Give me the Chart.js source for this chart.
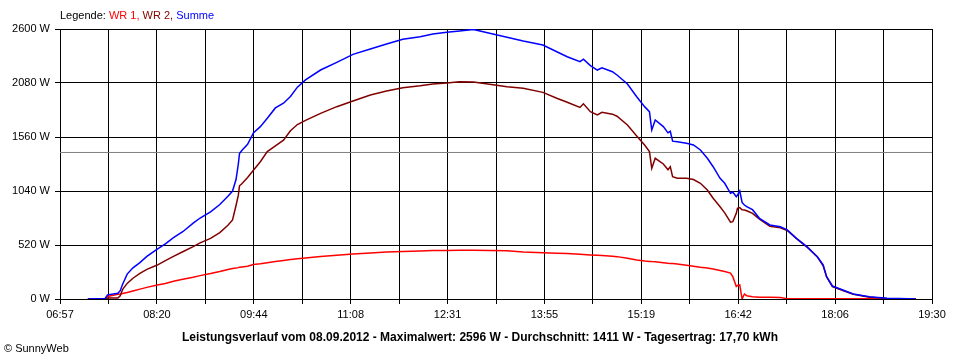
<!DOCTYPE html>
<html><head><meta charset="utf-8">
<script src="https://cdn.jsdelivr.net/npm/chart.js@4"></script>
<style>
html,body{margin:0;padding:0;background:#fff;}
#wrap{position:relative;width:960px;height:360px;font-family:"Liberation Sans",Arial,sans-serif;color:#000;}
canvas{position:absolute;left:0;top:0;}
#legend{position:absolute;left:60px;top:9px;font-size:11px;line-height:13px;white-space:nowrap;}
#caption{position:absolute;left:0;width:960px;top:330px;text-align:center;font-weight:bold;font-size:12px;line-height:14px;white-space:nowrap;}
#copy{position:absolute;left:4px;top:342px;font-size:11px;line-height:13px;}
</style></head>
<body>
<div id="wrap">
<canvas id="c" width="960" height="360"></canvas>
<div id="legend">Legende: <span style="color:#ff0000">WR 1,</span> <span style="color:#800000">WR 2,</span> <span style="color:#0000ff">Summe</span></div>
<div id="caption">Leistungsverlauf vom 08.09.2012 - Maximalwert: 2596 W - Durchschnitt: 1411 W - Tagesertrag: 17,70 kWh</div>
<div id="copy">© SunnyWeb</div>
</div>
<script>
const times = ["07:21","07:36","07:38","07:47","07:49","07:51","07:55","08:00","08:06","08:12","08:21","08:28","08:35","08:43","08:52","08:58","09:07","09:15","09:22","09:26","09:29","09:31","09:32","09:34","09:39","09:44","09:50","09:56","10:03","10:10","10:16","10:22","10:29","10:42","10:56","11:10","11:25","11:39","11:53","12:08","12:19","12:31","12:42","12:54","13:08","13:23","13:37","13:54","14:06","14:15","14:26","14:29","14:35","14:41","14:45","14:54","14:58","15:07","15:15","15:22","15:26","15:28","15:31","15:38","15:42","15:44","15:46","15:50","15:58","16:04","16:10","16:16","16:21","16:27","16:31","16:36","16:38","16:41","16:42","16:44","16:46","16:48","16:50","16:55","17:01","17:10","17:19","17:25","17:33","17:42","17:51","17:56","17:59","18:04","18:13","18:22","18:36","18:51","19:02","19:16"];
const wr1 = [null,5,25,45,48,52,62,77,95,112,135,150,170,190,210,225,245,265,285,293,298,302,305,308,315,333,340,350,360,370,380,388,395,410,422,434,444,452,458,463,466,468,469,469,468,464,452,445,440,437,430,428,424,421,418,412,408,392,375,365,362,360,358,350,345,343,341,336,325,316,305,298,288,275,265,250,215,120,130,135,0,48,32,22,18,16,14,3,3,3,3,3,3,3,3,3,3,0,0,0];
const wr2 = [0,0,10,10,30,90,150,200,247,285,327,370,410,455,504,540,584,640,710,761,900,1000,1090,1110,1170,1240,1322,1420,1475,1530,1620,1680,1720,1788,1852,1907,1965,2003,2035,2054,2071,2080,2093,2090,2067,2045,2030,1990,1933,1895,1845,1880,1804,1772,1798,1780,1760,1676,1570,1480,1419,1259,1355,1300,1245,1274,1178,1162,1162,1150,1114,1050,970,889,830,740,745,825,873,880,860,857,850,825,770,700,685,660,580,500,405,320,212,120,82,45,18,6,3,0];
const summe = [0,5,40,55,80,140,240,300,350,410,480,530,590,648,730,780,840,910,990,1040,1150,1300,1400,1430,1490,1600,1660,1740,1840,1885,1950,2040,2110,2205,2279,2356,2408,2456,2501,2526,2552,2568,2580,2596,2559,2520,2484,2446,2381,2333,2285,2310,2247,2205,2227,2189,2157,2070,1948,1850,1804,1627,1724,1660,1600,1615,1520,1515,1499,1483,1435,1355,1274,1162,1114,1018,1030,985,1000,1040,930,905,890,860,777,713,696,665,584,504,407,330,215,125,87,48,22,7,4,0];
const average = 1411;
const yTickValues = [0,520,1040,1560,2080,2600];
const xStart = "06:57", xEnd = "19:30";

const toMin = s => parseInt(s.slice(0,2),10)*60 + parseInt(s.slice(3),10);
const fmt = v => { const m = Math.floor(v + 1e-6); return String(Math.floor(m/60)).padStart(2,'0') + ':' + String(m%60).padStart(2,'0'); };
const series = arr => times.map((t,i) => ({x: toMin(t), y: arr[i]}));
const xMin = toMin(xStart), xMax = toMin(xEnd);
const nSteps = 18;

const font = {family: '"Liberation Sans", Arial, sans-serif', size: 11};

new Chart(document.getElementById('c'), {
  type: 'line',
  data: {
    datasets: [
      {label:'Summe', data: series(summe), borderColor:'#0000ff', borderWidth:1.5, pointRadius:0, order:0, tension:0},
      {label:'WR 2', data: series(wr2), borderColor:'#800000', borderWidth:1.5, pointRadius:0, order:1, tension:0},
      {label:'WR 1', data: series(wr1), borderColor:'#ff0000', borderWidth:1.5, pointRadius:0, order:2, tension:0},
      {label:'Durchschnitt', data: [{x:xMin,y:average},{x:xMax,y:average}], borderColor:'#808080', borderWidth:1, pointRadius:0, order:3}
    ]
  },
  options: {
    responsive:false, animation:false, devicePixelRatio:1,
    layout:{padding:{top:29, right:28, bottom:36, left:0}},
    plugins:{legend:{display:false}, tooltip:{enabled:false}, title:{display:false}},
    scales:{
      x:{type:'linear', min:xMin, max:xMax,
        afterBuildTicks: s => { s.ticks = Array.from({length:nSteps+1}, (_,i) => ({value: xMin + i*(xMax-xMin)/nSteps})); },
        afterFit: s => { s.height = 25; },
        ticks:{autoSkip:false, maxRotation:0, color:'#000', font, padding:4,
          callback:(v,i) => i%2===0 ? fmt(v) : ''},
        grid:{color:'#000', lineWidth:1, tickLength:5, drawTicks:true},
        border:{color:'#000'}
      },
      y:{min:0, max:2600,
        afterBuildTicks: s => { s.ticks = yTickValues.map(v => ({value:v})); },
        afterFit: s => { s.width = 60; },
        ticks:{color:'#000', font, padding:5, callback: v => v + ' W'},
        grid:{color:'#000', lineWidth:1, tickLength:5},
        border:{color:'#000'}
      }
    }
  }
});
</script>
</body></html>
